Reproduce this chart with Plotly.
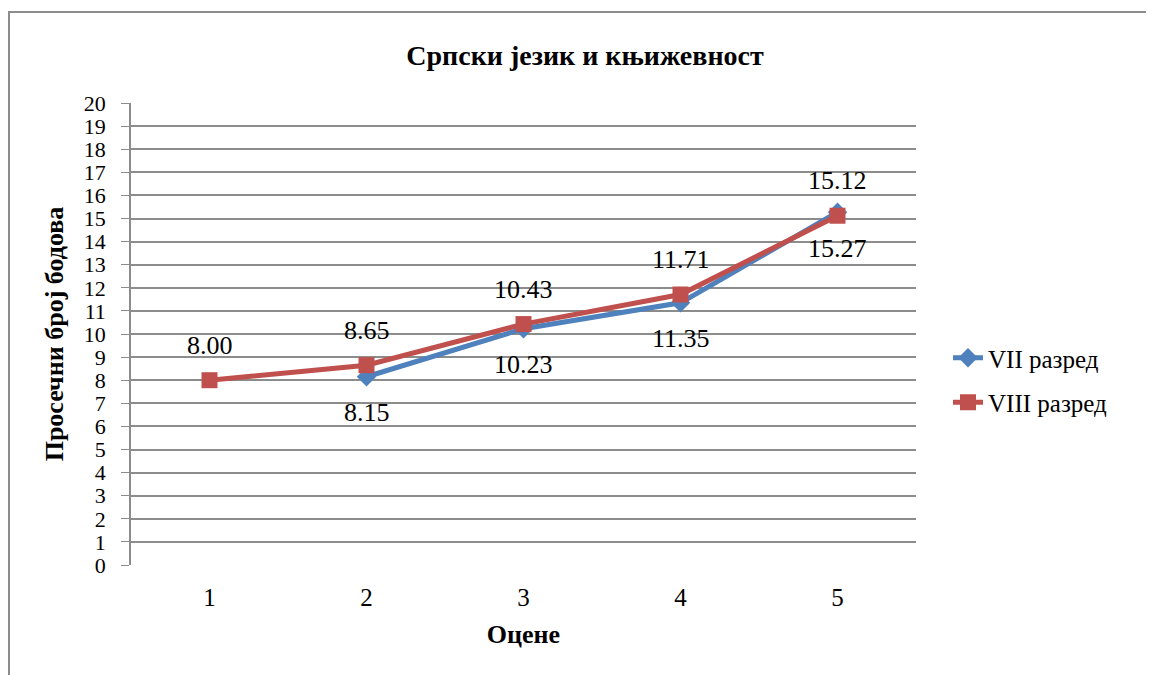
import plotly.graph_objects as go

grades = ["1", "2", "3", "4", "5"]
vii_points = [None, 8.15, 10.23, 11.35, 15.27]
viii_points = [8.00, 8.65, 10.43, 11.71, 15.12]
y_ticks = list(range(0, 21))

FONT = "Liberation Serif, Times New Roman, serif"
BLUE = "#4F81BD"
RED = "#C0504D"
GRID = "#8C8C8C"

fig = go.Figure()

fig.add_trace(
    go.Scatter(
        x=grades,
        y=vii_points,
        name="VII разред",
        mode="lines+markers",
        line=dict(color=BLUE, width=5),
        marker=dict(symbol="diamond", size=15, color=BLUE),
        legendgroup="vii",
    )
)
fig.add_trace(
    go.Scatter(
        x=grades,
        y=viii_points,
        name="VIII разред",
        mode="lines+markers",
        line=dict(color=RED, width=5),
        marker=dict(symbol="square", size=16, color=RED),
        legendgroup="viii",
    )
)

# data labels: VIII above the point, VII below
# (category axis -> annotations use the category index)
for i, v in enumerate(viii_points):
    fig.add_annotation(
        x=i, y=v, text=f"{v:.2f}", showarrow=False, yshift=35,
        font=dict(family=FONT, size=26, color="black"),
    )
for i, v in enumerate(vii_points):
    if v is None:
        continue
    fig.add_annotation(
        x=i, y=v, text=f"{v:.2f}", showarrow=False, yshift=-36,
        font=dict(family=FONT, size=26, color="black"),
    )

# page body adds an 8px offset, so the margins are shifted by that
# plot area: 123..908 x 95..557 in figure pixels
fig.add_shape(
    type="rect", xref="paper", yref="paper",
    x0=(1 - 123) / 785, x1=(1170 - 123) / 785,
    y0=(557 - 690) / 462, y1=(557 - 4) / 462,
    line=dict(color="#8C8C8C", width=2), layer="below",
)

fig.update_layout(
    width=1154,
    height=675,
    margin=dict(l=123, r=246, t=95, b=118),
    paper_bgcolor="white",
    plot_bgcolor="white",
    font=dict(family=FONT, size=20, color="black"),
    title=dict(
        text="<b>Српски језик и књижевност</b>",
        x=0.5, xanchor="center", y=1 - 47 / 675, yanchor="middle",
        font=dict(family=FONT, size=28, color="black"),
        automargin=False,
    ),
    xaxis=dict(
        type="category",
        range=[-0.5, 4.5],
        showgrid=False,
        showline=False,
        ticks="",
        tickfont=dict(family=FONT, size=25),
        ticklabelstandoff=15,
        title=dict(text="<b>Оцене</b>", font=dict(family=FONT, size=26), standoff=14),
        zeroline=False,
        automargin=False,
    ),
    yaxis=dict(
        range=[0, 20],
        tickvals=y_ticks,
        showgrid=True,
        gridcolor=GRID,
        gridwidth=1.5,
        showline=True,
        linecolor=GRID,
        linewidth=1.5,
        ticks="outside",
        ticklen=8,
        tickcolor=GRID,
        tickfont=dict(family=FONT, size=22),
        ticklabelstandoff=11,
        title=dict(text="<b>Просечни број бодова</b>", font=dict(family=FONT, size=26), standoff=13),
        zeroline=False,
        automargin=False,
    ),
    legend=dict(
        x=(940 - 123) / 785, xanchor="left",
        y=(557 - 372) / 462, yanchor="middle",
        font=dict(family=FONT, size=25),
        tracegroupgap=9,
        bgcolor="rgba(0,0,0,0)",
    ),
)

fig.write_html("out.html")
